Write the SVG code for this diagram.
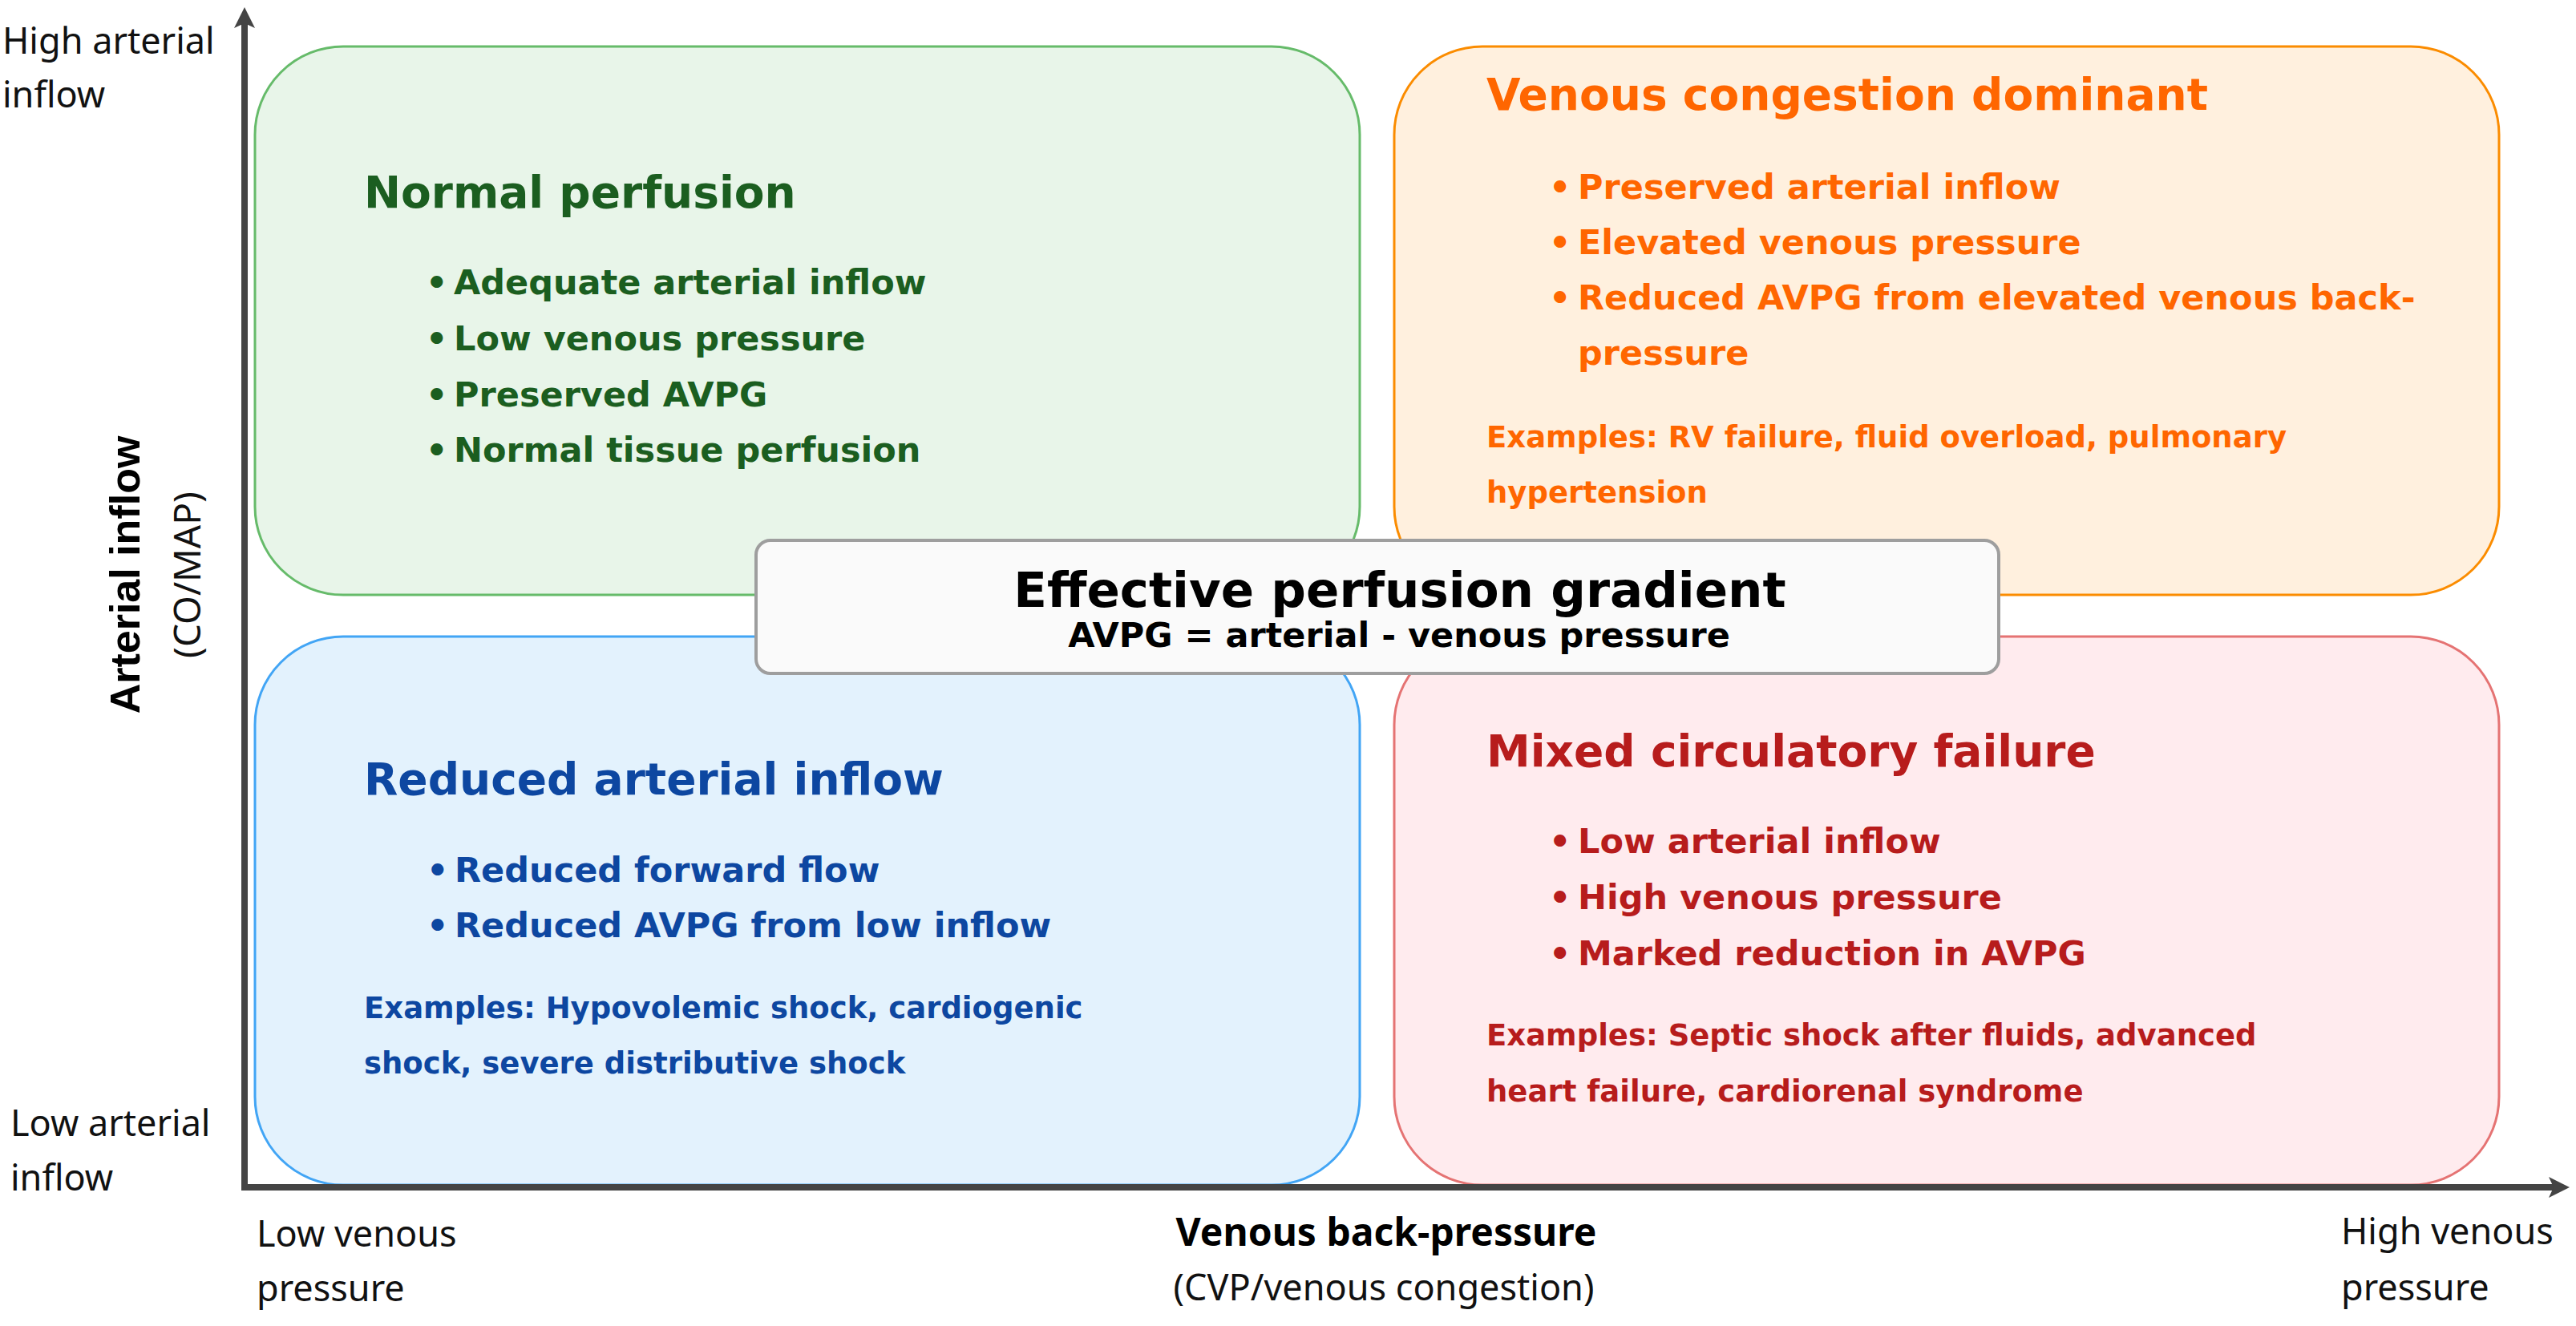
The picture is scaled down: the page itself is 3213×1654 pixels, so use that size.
<svg xmlns="http://www.w3.org/2000/svg" width="3213" height="1654" viewBox="0 0 3213 1654">
  <defs>
    <marker id="arrow" viewBox="-9 -14 28 28" refX="0" refY="0" markerWidth="28" markerHeight="28" markerUnits="userSpaceOnUse" orient="auto">
      <path d="M18,0 L-8,-13 L-2,0 L-8,13 Z" fill="#444444"/>
    </marker>
    <style>
      .axis { stroke: #444444; stroke-width: 8; fill: none; }
      .box { stroke-width: 3; }
      .lbl { font-family: "Noto Sans", "Open Sans", sans-serif; font-size: 45px; fill: #111111; }
      .axt { font-family: "Noto Sans", "Open Sans", sans-serif; font-size: 48px; font-weight: bold; fill: #000000; }
      .title { font-family: "DejaVu Sans", Verdana, sans-serif; font-size: 55px; font-weight: bold; }
      .bul { font-family: "DejaVu Sans", Verdana, sans-serif; font-size: 43px; font-weight: bold; }
      .ex { font-family: "DejaVu Sans", Verdana, sans-serif; font-size: 37px; font-weight: bold; }
      .green { fill: #1b5e20; }
      .orange { fill: #ff6600; }
      .blue { fill: #0d47a1; }
      .red { fill: #b71c1c; }
    </style>
  </defs>

  <rect x="0" y="0" width="3213" height="1654" fill="#ffffff"/>

  <g id="q-normal">
    <rect class="box" x="318" y="58" width="1378" height="684" rx="110" ry="110" fill="#e8f5e9" stroke="#66bb6a"/>
    <text class="title green" x="454" y="259">Normal perfusion</text>
    <text class="bul green"><tspan x="531" y="367">•</tspan><tspan x="566" y="367">Adequate arterial inflow</tspan></text>
    <text class="bul green"><tspan x="531" y="437">•</tspan><tspan x="566" y="437">Low venous pressure</tspan></text>
    <text class="bul green"><tspan x="531" y="507">•</tspan><tspan x="566" y="507">Preserved AVPG</tspan></text>
    <text class="bul green"><tspan x="531" y="576">•</tspan><tspan x="566" y="576">Normal tissue perfusion</tspan></text>
  </g>

  <g id="q-venous">
    <rect class="box" x="1739" y="58" width="1378" height="684" rx="110" ry="110" fill="#fff0de" stroke="#fb8c00"/>
    <text class="title orange" x="1854" y="137">Venous congestion dominant</text>
    <text class="bul orange"><tspan x="1932" y="248">•</tspan><tspan x="1968" y="248">Preserved arterial inflow</tspan></text>
    <text class="bul orange"><tspan x="1932" y="317">•</tspan><tspan x="1968" y="317">Elevated venous pressure</tspan></text>
    <text class="bul orange"><tspan x="1932" y="386">•</tspan><tspan x="1968" y="386">Reduced AVPG from elevated venous back-</tspan><tspan x="1968" y="455">pressure</tspan></text>
    <text class="ex orange"><tspan x="1854" y="558">Examples: RV failure, fluid overload, pulmonary</tspan><tspan x="1854" y="627">hypertension</tspan></text>
  </g>

  <g id="q-reduced">
    <rect class="box" x="318" y="794" width="1378" height="684" rx="110" ry="110" fill="#e3f2fd" stroke="#42a5f5"/>
    <text class="title blue" x="454" y="991">Reduced arterial inflow</text>
    <text class="bul blue"><tspan x="532" y="1100">•</tspan><tspan x="567" y="1100">Reduced forward flow</tspan></text>
    <text class="bul blue"><tspan x="532" y="1169">•</tspan><tspan x="567" y="1169">Reduced AVPG from low inflow</tspan></text>
    <text class="ex blue"><tspan x="454" y="1270">Examples: Hypovolemic shock, cardiogenic</tspan><tspan x="454" y="1339">shock, severe distributive shock</tspan></text>
  </g>

  <g id="q-mixed">
    <rect class="box" x="1739" y="794" width="1378" height="684" rx="110" ry="110" fill="#ffebee" stroke="#e57373"/>
    <text class="title red" x="1854" y="956">Mixed circulatory failure</text>
    <text class="bul red"><tspan x="1932" y="1064">•</tspan><tspan x="1968" y="1064">Low arterial inflow</tspan></text>
    <text class="bul red"><tspan x="1932" y="1134">•</tspan><tspan x="1968" y="1134">High venous pressure</tspan></text>
    <text class="bul red"><tspan x="1932" y="1204">•</tspan><tspan x="1968" y="1204">Marked reduction in AVPG</tspan></text>
    <text class="ex red"><tspan x="1854" y="1304">Examples: Septic shock after fluids, advanced</tspan><tspan x="1854" y="1374">heart failure, cardiorenal syndrome</tspan></text>
  </g>

  <g id="center-gradient">
    <rect x="943" y="674" width="1550" height="166" rx="18" ry="18" fill="#fafafa" stroke="#9e9e9e" stroke-width="4"/>
    <text x="1746" y="757" text-anchor="middle" font-family="'DejaVu Sans', Verdana, sans-serif" font-size="61" font-weight="bold" fill="#000000">Effective perfusion gradient</text>
    <text x="1745" y="807" text-anchor="middle" font-family="'DejaVu Sans', Verdana, sans-serif" font-size="43" font-weight="bold" fill="#000000">AVPG = arterial - venous pressure</text>
  </g>

  <g id="connectors">
    <line class="axis" x1="305" y1="1485" x2="305" y2="27" marker-end="url(#arrow)"/>
    <line class="axis" x1="301" y1="1481" x2="3187" y2="1481" marker-end="url(#arrow)"/>
  </g>

  <g id="axis-labels">
    <text class="lbl"><tspan x="3" y="67">High arterial</tspan><tspan x="3" y="134">inflow</tspan></text>
    <text class="lbl"><tspan x="13" y="1417">Low arterial</tspan><tspan x="13" y="1485">inflow</tspan></text>
    <text class="lbl"><tspan x="320" y="1555">Low venous</tspan><tspan x="320" y="1623">pressure</tspan></text>
    <text class="lbl"><tspan x="2920" y="1552">High venous</tspan><tspan x="2920" y="1622">pressure</tspan></text>
    <text class="axt" x="1729" y="1554" text-anchor="middle">Venous back-pressure</text>
    <text class="lbl" x="1726" y="1622" text-anchor="middle">(CVP/venous congestion)</text>
    <text transform="translate(174,717) rotate(-90)" text-anchor="middle" font-family="'Liberation Sans', Arial, sans-serif" font-size="52" font-weight="bold" fill="#000000">Arterial inflow</text>
    <text transform="translate(250,717) rotate(-90)" text-anchor="middle" font-family="'Noto Sans', 'Open Sans', sans-serif" font-size="46" fill="#111111">(CO/MAP)</text>
  </g>
</svg>
